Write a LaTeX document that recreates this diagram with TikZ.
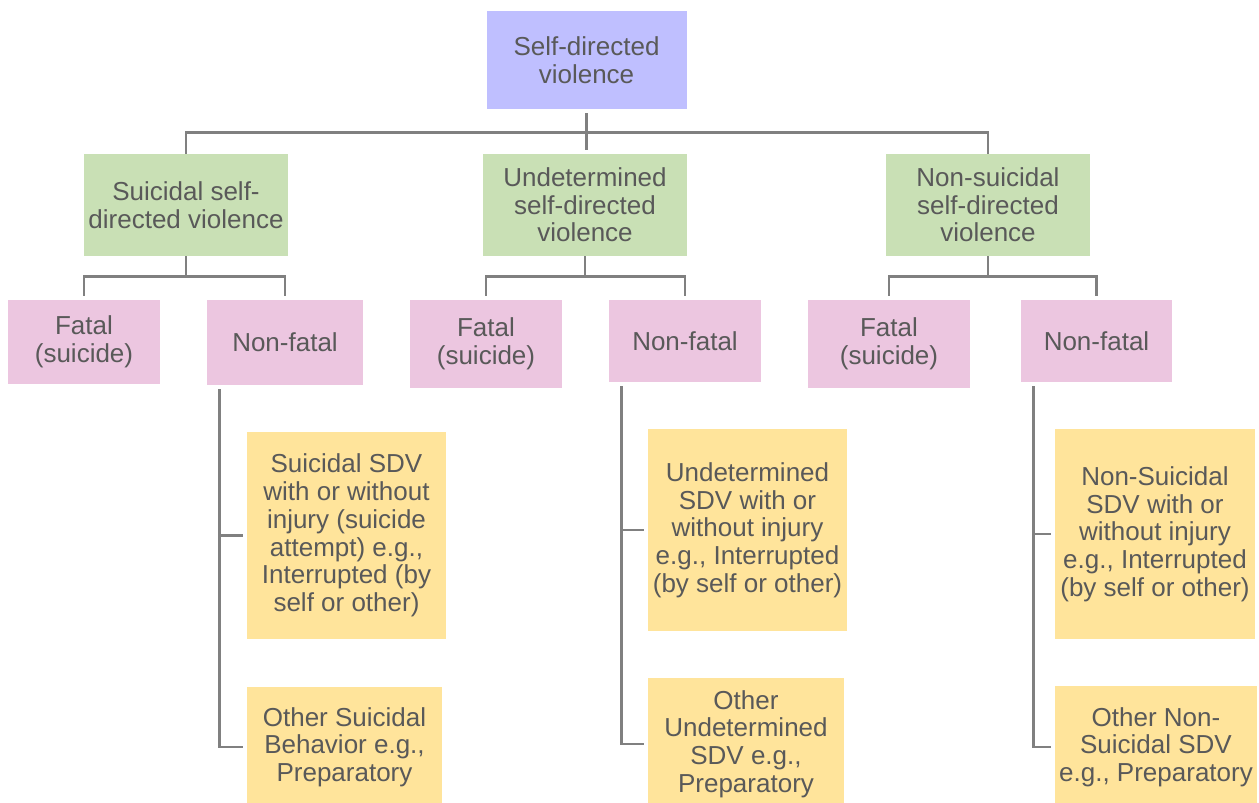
\documentclass[tikz,border=0pt]{standalone}
\usepackage{fontspec}
\setmainfont{Liberation Sans}
\definecolor{txtgray}{RGB}{89,89,89}
\definecolor{linegray}{RGB}{128,128,128}
\definecolor{rootfill}{RGB}{191,191,255}
\definecolor{catfill}{RGB}{201,224,181}
\definecolor{outfill}{RGB}{236,198,224}
\definecolor{subfill}{RGB}{255,228,155}
\begin{document}
\begin{tikzpicture}[x=1pt,y=-1pt,
  box/.style={inner sep=0pt, align=center, text=txtgray,
    font=\fontsize{26}{27.7}\selectfont},
  sz/.style 2 args={minimum width=#1pt, minimum height=#2pt},
  rootbox/.style={box, fill=rootfill},
  catbox/.style={box, fill=catfill},
  outbox/.style={box, fill=outfill},
  subbox/.style={box, fill=subfill},
  conn/.style={draw=linegray, line width=2.8pt},
  gapped/.style={shorten <=4pt, shorten >=4pt}
]
\useasboundingbox (0,0) rectangle (1259,803);

% top level
\node[rootbox, sz={200}{98}] (root) at (586.5,60) {Self-directed\\violence};

% three categories
\node[catbox, sz={204}{102}] (cs) at (186,205) {Suicidal self-\\directed violence};
\node[catbox, sz={204}{102}] (cu) at (585,205) {Undetermined\\self-directed\\violence};
\node[catbox, sz={204}{102}] (cn) at (988,205) {Non-suicidal\\self-directed\\violence};

% outcomes
\node[outbox, sz={152}{84}] (fs) at (84,342) {Fatal\\(suicide)};
\node[outbox, sz={156}{85}] (ns) at (285,342.5) {Non-fatal};
\node[outbox, sz={152}{88}] (fu) at (486,344) {Fatal\\(suicide)};
\node[outbox, sz={152}{82}] (nu) at (685,341) {Non-fatal};
\node[outbox, sz={162}{88}] (fn) at (889,344) {Fatal\\(suicide)};
\node[outbox, sz={151}{82}] (nn) at (1096.5,341) {Non-fatal};

% non-fatal subtypes
\node[subbox, sz={199}{207}] (sa) at (346.5,535.5) {Suicidal SDV\\with or without\\injury (suicide\\attempt) e.g.,\\Interrupted (by\\self or other)};
\node[subbox, sz={195}{120}] (sb) at (344.5,747) {Other Suicidal\\Behavior e.g.,\\Preparatory};
\node[subbox, sz={199}{202}] (ua) at (747.5,530) {Undetermined\\SDV with or\\without injury\\e.g., Interrupted\\(by self or other)};
\node[subbox, sz={196}{132}] (ub) at (746,744) {Other\\Undetermined\\SDV e.g.,\\Preparatory};
\node[subbox, sz={200}{210}] (na) at (1155,534) {Non-Suicidal\\SDV with or\\without injury\\e.g., Interrupted\\(by self or other)};
\node[subbox, sz={202}{122}] (nb) at (1156,747) {Other Non-\\Suicidal SDV\\e.g., Preparatory};

% root to categories
\draw[conn, shorten <=4pt] (root.south) -- ++(0,23) -| (cs.north);
\draw[conn, shorten <=4pt] (root.south) -- ++(0,23) -| (cn.north);
\draw[conn, gapped] (root.south) -- (root.south |- cu.north);

% categories to outcomes
\foreach \c/\f/\n in {cs/fs/ns, cu/fu/nu, cn/fn/nn} {
  \draw[conn, shorten >=4pt] (\c.south) -- ++(0,20) -| (\f.north);
  \draw[conn, shorten >=4pt] (\c.south) -- ++(0,20) -| (\n.north);
}

% non-fatal outcomes to subtypes
\foreach \n/\a/\b in {ns/sa/sb, nu/ua/ub, nn/na/nb} {
  \draw[conn, gapped] ([xshift=13pt]\n.south west) |- (\a.west);
  \draw[conn, gapped] ([xshift=13pt]\n.south west) |- (\b.west);
}
\end{tikzpicture}
\end{document}
